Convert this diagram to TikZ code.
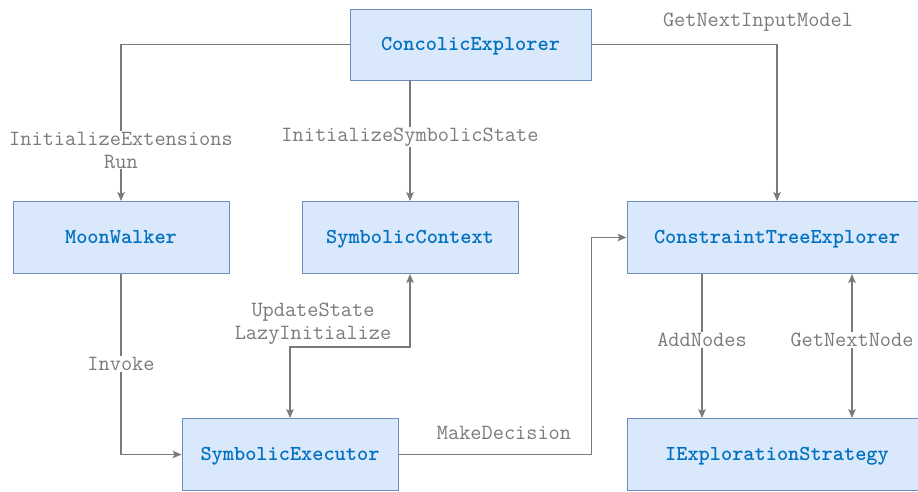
\documentclass[tikz,border=0pt]{standalone}
\usepackage{fontspec}
\usetikzlibrary{arrows.meta}
\definecolor{boxfill}{HTML}{DAE8FC}
\definecolor{boxline}{HTML}{6C8EBF}
\definecolor{boxtext}{HTML}{0070C0}
\definecolor{wire}{HTML}{7A7A7A}
\begin{document}
\begin{tikzpicture}[x=1pt,y=-1pt,
  cls/.style={draw=boxline, fill=boxfill, line width=0.9pt,
    minimum height=72pt, inner sep=0pt, text=boxtext,
    text height=11.5pt, text depth=0pt,
    font=\fontsize{21.3}{23}\selectfont\ttfamily\bfseries},
  lbl/.style={fill=white, inner sep=1pt, text=wire, align=center,
    font=\fontsize{21.7}{23}\selectfont\ttfamily},
  toplbl/.style={lbl, fill=none},
  edge/.style={draw=wire, line width=1.2pt,
    -{Stealth[length=9pt,width=7.5pt,inset=2pt]}},
  twoway/.style={edge,
    {Stealth[length=9pt,width=7.5pt,inset=2pt]}-{Stealth[length=9pt,width=7.5pt,inset=2pt]}}]
\useasboundingbox (0,0) rectangle (918,491);
\clip (0,0) rectangle (918,491);

% classes
\node[cls, minimum width=241pt, minimum height=71pt] (ce)  at (470.5,44.5) {ConcolicExplorer};
\node[cls, minimum width=216pt] (mw)  at (121,237.5) {MoonWalker};
\node[cls, minimum width=216pt] (sc)  at (410,237.5) {SymbolicContext};
\node[cls, minimum width=300pt] (cte) at (777,237.5) {ConstraintTreeExplorer};
\node[cls, minimum width=216pt] (se)  at (290,454.5) {SymbolicExecutor};
\node[cls, minimum width=300pt] (ies) at (777,454.5) {IExplorationStrategy};

% calls
\draw[edge] (ce.west) -| (mw.north);
\draw[edge] (sc.north |- ce.south) -- (sc.north);
\draw[edge] (ce.east) -| (cte.north);
\draw[edge] (mw.south) |- (se.west);
\draw[twoway] (se.north) -- ++(0,-71) -| (sc.south);
\draw[edge] (se.east) -- ++(193,0) |- (cte.west);
\draw[edge] ([xshift=-75pt]cte.south) -- ([xshift=-75pt]ies.north);
\draw[twoway] ([xshift=75pt]cte.south) -- ([xshift=75pt]ies.north);

% call labels
\node[lbl] (l1) at (121,150) {InitializeExtensions\\Run};
\node[lbl] (l2) at (410,137) {InitializeSymbolicState};
\node[toplbl] (l3) at (758,22) {GetNextInputModel};
\node[lbl] (l4) at (121,364) {Invoke};
\node[toplbl] (l5) at (313,324) {UpdateState\\LazyInitialize};
\node[toplbl] (l6) at (504,433) {MakeDecision};
\node[lbl] (l7) at (702,340) {AddNodes};
\node[lbl] (l8) at (852,340) {GetNextNode};
\end{tikzpicture}
\end{document}
